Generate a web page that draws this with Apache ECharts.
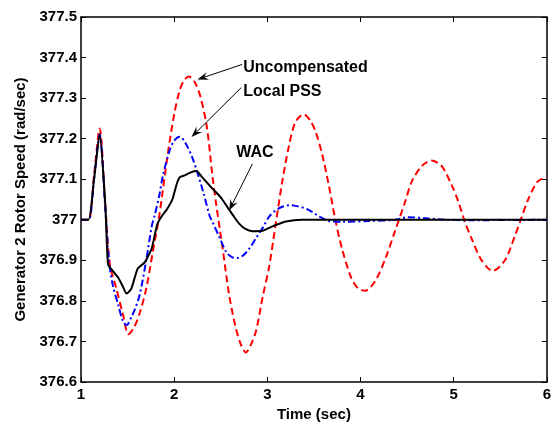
<!DOCTYPE html>
<html>
<head>
<meta charset="utf-8">
<script src="https://cdn.jsdelivr.net/npm/echarts@6/dist/echarts.min.js"></script>
<style>html,body{margin:0;padding:0;background:#fff;}#c{width:554px;height:427px;}</style>
</head>
<body>
<div id="c"></div>
<script>
// ---- data ----
const uncompT = [1.0,1.08,1.14,1.2,1.26,1.31,1.38,1.45,1.51,1.57,1.63,1.7,1.77,1.84,1.93,2.0,2.06,2.11,2.16,2.22,2.28,2.35,2.41,2.45,2.52,2.59,2.66,2.72,2.77,2.82,2.88,2.95,3.02,3.09,3.16,3.23,3.3,3.39,3.46,3.52,3.59,3.66,3.73,3.8,3.9,3.97,4.05,4.16,4.27,4.37,4.48,4.55,4.66,4.76,4.87,4.98,5.05,5.12,5.19,5.3,5.42,5.55,5.66,5.72,5.8,5.9,6.0];
const uncompV = [377.0,377.0,377.11,377.225,377.04,376.89,376.83,376.767,376.718,376.735,376.77,376.83,376.92,377.01,377.16,377.26,377.32,377.345,377.353,377.34,377.305,377.23,377.11,377.04,376.93,376.815,376.735,376.69,376.673,376.69,376.727,376.81,376.885,376.99,377.094,377.18,377.24,377.26,377.245,377.216,377.16,377.085,377.0,376.93,376.857,376.832,376.825,376.85,376.906,376.972,377.045,377.094,377.133,377.146,377.133,377.085,377.045,376.995,376.955,376.9,376.874,376.9,376.962,377.0,377.05,377.094,377.106];

const pssT = [1.0,1.08,1.14,1.2,1.26,1.3,1.34,1.4,1.45,1.49,1.54,1.58,1.63,1.7,1.76,1.79,1.84,1.88,1.95,2.0,2.06,2.12,2.2,2.31,2.38,2.41,2.49,2.56,2.62,2.68,2.74,2.81,2.88,2.95,3.02,3.09,3.16,3.25,3.33,3.42,3.49,3.56,3.66,3.8,4.09,4.37,4.5,4.7,4.9,5.2,6.0];
const pssV = [377.0,377.0,377.1,377.21,377.03,376.9,376.84,376.79,376.75,376.74,376.76,376.78,376.815,376.9,376.985,377.01,377.06,377.11,377.17,377.195,377.205,377.19,377.15,377.07,377.01,376.995,376.955,376.92,376.908,376.906,376.912,376.93,376.955,376.98,377.008,377.023,377.032,377.036,377.033,377.027,377.018,377.008,376.997,376.995,376.997,377.0,377.006,377.004,377.0,376.999,377.0];

const wacT = [1.0,1.08,1.14,1.2,1.26,1.29,1.33,1.4,1.45,1.49,1.54,1.58,1.61,1.68,1.72,1.76,1.82,1.87,1.92,1.98,2.03,2.06,2.12,2.18,2.24,2.3,2.41,2.5,2.59,2.65,2.7,2.76,2.84,2.95,3.02,3.09,3.2,3.37,6.0];
const wacV = [377.0,377.0,377.1,377.21,377.04,376.89,376.877,376.857,376.835,376.818,376.83,376.86,376.88,376.894,376.91,376.93,376.99,377.01,377.025,377.05,377.09,377.105,377.11,377.117,377.12,377.105,377.077,377.055,377.025,377.005,376.99,376.978,376.972,376.973,376.98,376.987,376.996,377.0,377.0];

const xTicks = [1,2,3,4,5,6];
const yTicks = [376.6,376.7,376.8,376.9,377,377.1,377.2,377.3,377.4,377.5];

// annotation labels and arrows (data units)
const annLabels = ['Uncompensated','Local PSS','WAC'];
const annTextPos = [[2.742,377.376],[2.742,377.316],[2.667,377.166]];
const annArrowFrom = [[2.73,377.383],[2.72,377.326],[2.84,377.138]];
const annArrowTo = [[2.25,377.346],[2.186,377.204],[2.59,377.023]];

function pairs(t,v){return t.map((x,i)=>[x,v[i]]);}
const FONT = '"Liberation Sans", Arial, sans-serif';

const chart = echarts.init(document.getElementById('c'), null, {renderer:'canvas'});

const axisCommon = {
  axisLine:{show:true,onZero:false,lineStyle:{color:'#000',width:1.5}},
  axisTick:{show:true,inside:true,length:5,lineStyle:{color:'#000',width:1}},
  splitLine:{show:false}
};

const option = {
  animation:false,
  backgroundColor:'#fff',
  grid:{left:81,right:5,top:17,bottom:42,containLabel:false},
  xAxis:[
    Object.assign({type:'value',min:1,max:6,interval:1,position:'bottom',
      name:'Time (sec)',nameLocation:'middle',nameGap:25,
      nameTextStyle:{fontFamily:FONT,fontWeight:'bold',fontSize:15,color:'#000'},
      axisLabel:{fontFamily:FONT,fontWeight:'bold',fontSize:15,color:'#000',margin:5,
        formatter:v=>xTicks.includes(v)?String(v):''}}, axisCommon),
    Object.assign({type:'value',min:1,max:6,interval:1,position:'top',axisLabel:{show:false}}, axisCommon)
  ],
  yAxis:[
    Object.assign({type:'value',min:376.6,max:377.5,interval:0.1,position:'left',
      name:'Generator 2 Rotor Speed (rad/sec)',nameLocation:'middle',nameGap:53,nameRotate:90,
      nameTextStyle:{fontFamily:FONT,fontWeight:'bold',fontSize:15,color:'#000'},
      axisLabel:{fontFamily:FONT,fontWeight:'bold',fontSize:15,color:'#000',margin:4,
        formatter:v=>{const t=yTicks.find(y=>Math.abs(y-v)<1e-6);return t===undefined?'':String(t);}}}, axisCommon),
    Object.assign({type:'value',min:376.6,max:377.5,interval:0.1,position:'right',axisLabel:{show:false}}, axisCommon)
  ],
  series:[
    {name:'Uncompensated',type:'line',data:pairs(uncompT,uncompV),smooth:0.3,showSymbol:false,
      lineStyle:{color:'#ff0000',width:2,type:[7,4]},z:2},
    {name:'Local PSS',type:'line',data:pairs(pssT,pssV),smooth:0.3,showSymbol:false,
      lineStyle:{color:'#0000ff',width:2,type:[7,3,2,3]},z:3},
    {name:'WAC',type:'line',data:pairs(wacT,wacV),smooth:0.2,showSymbol:false,
      lineStyle:{color:'#000',width:2},z:4}
  ]
};
chart.setOption(option);

const P = c => chart.convertToPixel({xAxisIndex:0,yAxisIndex:0}, c);
const graphics = [];
annLabels.forEach((txt,i)=>{
  const p = P(annTextPos[i]);
  graphics.push({type:'text',x:p[0],y:p[1],z:10,
    style:{text:txt,font:'bold 16px '+FONT,fill:'#000',align:'left',verticalAlign:'middle'}});
  const a = P(annArrowFrom[i]), b = P(annArrowTo[i]);
  const dx=b[0]-a[0], dy=b[1]-a[1], L=Math.hypot(dx,dy), ux=dx/L, uy=dy/L, nx=-uy, ny=ux;
  const hl=11, hw=4, notch=7;
  const base=[b[0]-ux*hl,b[1]-uy*hl];
  graphics.push({type:'line',z:10,shape:{x1:a[0],y1:a[1],x2:b[0]-ux*notch,y2:b[1]-uy*notch},
    style:{stroke:'#000',lineWidth:1}});
  graphics.push({type:'polygon',z:10,shape:{points:[
      [b[0],b[1]],
      [base[0]+nx*hw,base[1]+ny*hw],
      [b[0]-ux*notch,b[1]-uy*notch],
      [base[0]-nx*hw,base[1]-ny*hw]]},
    style:{fill:'#000'}});
});
chart.setOption({graphic:graphics});
</script>
</body>
</html>
